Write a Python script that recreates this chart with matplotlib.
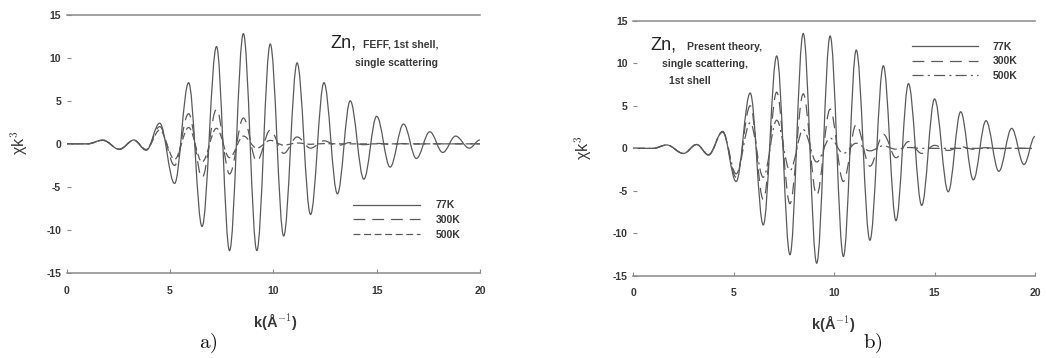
import matplotlib
matplotlib.use("Agg")
import matplotlib.pyplot as plt
from matplotlib.path import Path
from matplotlib.patches import PathPatch
from matplotlib.lines import Line2D

plt.rcParams["font.family"] = ["Liberation Sans", "DejaVu Sans"]
plt.rcParams["mathtext.fontset"] = "cm"
plt.rcParams["lines.scale_dashes"] = False
plt.rcParams["axes.unicode_minus"] = False

# ---- data: extrema of chi(k)*k^3 (k in 1/Angstrom) ----
# a) FEFF, 1st shell, single scattering
k_a = [0, 1.0, 1.75, 2.55, 3.25, 3.85, 4.5, 5.22, 5.9, 6.55, 7.25, 7.88, 8.55,
       9.2, 9.85, 10.5, 11.15, 11.8, 12.45, 13.1, 13.72, 14.38, 15.0, 15.65,
       16.3, 16.92, 17.57, 18.2, 18.82, 19.48, 20.0]
chi_a_77 = [0, 0, 0.45, -0.65, 0.45, -0.75, 2.4, -4.6, 7.1, -9.6, 11.3, -12.4,
            12.8, -12.4, 11.6, -10.7, 9.4, -8.2, 7.1, -5.8, 5.0, -4.1, 3.2,
            -2.7, 2.3, -1.7, 1.4, -1.0, 0.9, -0.5, 0.45]
chi_a_300 = [0, 0, 0.4, -0.6, 0.4, -0.7, 2.0, -2.5, 3.5, -3.9, 4.0, -3.5, 3.0,
             -2.0, 1.6, -1.1, 0.8, -0.5, 0.35, -0.2, 0.15, -0.1, 0.05, -0.05,
             0.03, -0.02, 0.01, 0, 0, 0, 0]
chi_a_500 = [0, 0, 0.4, -0.6, 0.4, -0.65, 1.6, -1.8, 1.9, -2.1, 1.8, -1.6, 0.9,
             -0.5, 0.4, -0.15, 0.1, -0.05, 0.03, 0, 0, 0, 0, 0, 0, 0, 0, 0, 0,
             0, 0]

# b) present theory, single scattering, 1st shell
k_b = [0, 1.0, 1.66, 2.5, 3.15, 3.75, 4.45, 5.12, 5.82, 6.47, 7.14, 7.8, 8.46,
       9.13, 9.8, 10.46, 11.1, 11.78, 12.45, 13.08, 13.7, 14.36, 15.0, 15.68,
       16.3, 16.93, 17.56, 18.2, 18.84, 19.45, 20.0]
chi_b_77 = [0, 0, 0.4, -0.6, 0.45, -0.8, 2.0, -3.9, 6.5, -9.0, 10.85, -12.5,
            13.5, -13.5, 13.2, -12.7, 11.55, -10.8, 9.7, -8.5, 7.6, -6.7, 5.8,
            -5.1, 4.3, -3.7, 3.25, -2.7, 2.35, -1.9, 1.4]
chi_b_300 = [0, 0, 0.4, -0.6, 0.45, -0.75, 1.95, -3.4, 5.0, -6.0, 6.6, -6.5,
             6.4, -5.5, 4.6, -3.9, 2.8, -2.1, 1.65, -1.1, 0.8, -0.6, 0.35,
             -0.25, 0.2, -0.1, 0.08, -0.05, 0.03, 0, 0]
chi_b_500 = [0, 0, 0.4, -0.6, 0.45, -0.7, 1.9, -3.0, 3.0, -3.4, 3.3, -2.6, 2.2,
             -1.6, 1.2, -0.6, 0.6, -0.3, 0.3, -0.1, 0.1, 0, 0, 0, 0, 0, 0, 0,
             0, 0, 0]

temps = ["77K", "300K", "500K"]
x_ticks = [0, 5, 10, 15, 20]
y_ticks = [-15, -10, -5, 0, 5, 10, 15]

LINE = "#5a5a5a"
TEXT = "#383838"
SPINE = "#8a8a8a"

style_solid = "-"
style_long = (0, (8.5, 5.0))
style_short = (0, (5.0, 2.6))
style_dashdot = (0, (8.0, 3.0, 1.5, 3.0))


def smooth_path(ax, k, chi, ls, lw=0.9):
    """Join consecutive extrema with horizontal-tangent cubic Bezier arcs."""
    a = 1 - 2 / 3.141592653589793
    verts = [(k[0], chi[0])]
    codes = [Path.MOVETO]
    for i in range(len(k) - 1):
        dx = k[i + 1] - k[i]
        verts += [(k[i] + a * dx, chi[i]), (k[i + 1] - a * dx, chi[i + 1]),
                  (k[i + 1], chi[i + 1])]
        codes += [Path.CURVE4] * 3
    patch = PathPatch(Path(verts, codes), fill=False, edgecolor=LINE,
                      linewidth=lw, linestyle=ls, transform=ax.transData)
    ax.add_patch(patch)


fig = plt.figure(figsize=(10.46, 3.58), dpi=100)
W, H = 1046, 358


def add_axes(x0, x1, ytop, ybot):
    return fig.add_axes([x0 / W, 1 - ybot / H, (x1 - x0) / W, (ybot - ytop) / H])


def style_axes(ax):
    ax.set_xlim(0, 20)
    ax.set_ylim(-15, 15)
    ax.set_xticks(x_ticks)
    ax.set_yticks(y_ticks)
    for s in ("left", "right"):
        ax.spines[s].set_visible(False)
    for s in ("top", "bottom"):
        ax.spines[s].set_color(SPINE)
        ax.spines[s].set_linewidth(1.1)
    ax.tick_params(axis="y", direction="in", length=3, width=0.8,
                   color=SPINE, pad=4, labelsize=7.5, labelcolor=TEXT)
    ax.tick_params(axis="x", direction="in", length=3, width=0.8,
                   color=SPINE, pad=9, labelsize=7.5, labelcolor=TEXT)
    for lab in ax.get_xticklabels() + ax.get_yticklabels():
        lab.set_fontweight("bold")
    ax.set_xlabel("k(Å$^{-1}$)", fontsize=10.5, color=TEXT, va="top",
                  fontweight="bold")
    ax.set_ylabel("χk$^3$", fontsize=11.5, color=TEXT)


small = dict(fontsize=7.5, color=TEXT, va="baseline", ha="left",
             fontweight="bold")
big = dict(fontsize=13, color="#222222", va="baseline", ha="left")

# ---- panel a ----
axa = add_axes(66.7, 480, 14.7, 273)
style_axes(axa)
for chi, ls in zip([chi_a_77, chi_a_300, chi_a_500],
                   [style_solid, style_long, style_short]):
    smooth_path(axa, k_a, chi, ls)
axa.xaxis.set_label_coords(0.504, -0.147)
axa.yaxis.set_label_coords(-0.089, 0.503)
handles_a = [Line2D([], [], color=LINE, lw=0.9, ls=ls)
             for ls in [style_solid, style_long, style_short]]
leg = axa.legend(handles_a, temps, loc="upper left",
                 bbox_to_anchor=(0.693, 0.281), frameon=False, fontsize=7.5,
                 handlelength=6.4, handletextpad=1.5, labelspacing=0.45,
                 borderpad=0, borderaxespad=0, labelcolor=TEXT)
for t in leg.get_texts():
    t.set_fontweight("bold")

fig.text(330 / W, 1 - 47.5 / H, "Zn,", **big)
fig.text(363 / W, 1 - 47.5 / H, "FEFF, 1st shell,", **small)
fig.text(355 / W, 1 - 65.5 / H, "single scattering", **small)

# ---- panel b ----
axb = add_axes(633.3, 1035, 20.7, 276)
style_axes(axb)
for chi, ls in zip([chi_b_77, chi_b_300, chi_b_500],
                   [style_solid, style_long, style_dashdot]):
    smooth_path(axb, k_b, chi, ls)
axb.xaxis.set_label_coords(0.497, -0.145)
axb.yaxis.set_label_coords(-0.098, 0.501)
handles_b = [Line2D([], [], color=LINE, lw=0.9, ls=ls)
             for ls in [style_solid, style_long, style_dashdot]]
leg = axb.legend(handles_b, temps, loc="upper left",
                 bbox_to_anchor=(0.694, 0.918), frameon=False, fontsize=7.5,
                 handlelength=6.3, handletextpad=1.4, labelspacing=0.45,
                 borderpad=0, borderaxespad=0, labelcolor=TEXT)
for t in leg.get_texts():
    t.set_fontweight("bold")

fig.text(650 / W, 1 - 49.5 / H, "Zn,", **big)
fig.text(687 / W, 1 - 49.5 / H, "Present theory,", **small)
fig.text(661.7 / W, 1 - 67 / H, "single scattering,", **small)
fig.text(669 / W, 1 - 84 / H, "1st shell", **small)

# ---- sub-figure tags ----
fig.text(208 / W, 1 - 343 / H, r"$\mathrm{a)}$", fontsize=15, color="#111111",
         ha="center", va="center")
fig.text(873 / W, 1 - 343 / H, r"$\mathrm{b)}$", fontsize=15, color="#111111",
         ha="center", va="center")

fig.savefig("out.png", dpi=100, facecolor="white")
